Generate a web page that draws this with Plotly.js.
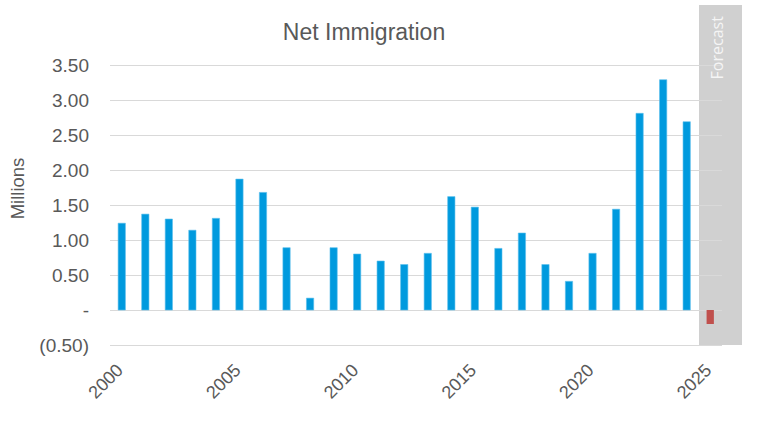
<!DOCTYPE html>
<html>
<head>
<meta charset="utf-8">
<script src="https://cdn.plot.ly/plotly-3.0.1.min.js"></script>
<style>html,body{margin:0;padding:0;background:#fff;}#chart{width:768px;height:422px;}</style>
</head>
<body>
<div id="chart"></div>
<script>
// Data
const years = [2000,2001,2002,2003,2004,2005,2006,2007,2008,2009,2010,2011,2012,2013,2014,2015,2016,2017,2018,2019,2020,2021,2022,2023,2024];
const netImmigration = [1.24,1.37,1.30,1.14,1.31,1.87,1.68,0.89,0.17,0.89,0.80,0.70,0.65,0.81,1.62,1.47,0.88,1.10,0.65,0.41,0.81,1.44,2.81,3.29,2.69];
const forecastYears = [2025];
const forecastValues = [-0.20];
const yTickVals = [-0.5,0,0.5,1,1.5,2,2.5,3,3.5];
const yTickText = ["(0.50)","-","0.50","1.00","1.50","2.00","2.50","3.00","3.50"];
const xTickVals = [2000,2005,2010,2015,2020,2025];
const xTickText = ["2000","2005","2010","2015","2020","2025"];

const textColor = '#595959';
const font = 'Liberation Sans, Arial, sans-serif';

const traces = [
  {type:'bar', x: years, y: netImmigration, marker:{color:'#009ADE', line:{color:'#5cc0ec', width:0.6}}, width:0.31, hoverinfo:'x+y'},
  {type:'bar', x: forecastYears, y: forecastValues, marker:{color:'#C0504D'}, width:0.31, hoverinfo:'x+y'}
];

const layout = {
  width:768, height:422,
  margin:{l:110, r:46, t:30, b:75},
  paper_bgcolor:'#ffffff', plot_bgcolor:'rgba(0,0,0,0)',
  showlegend:false,
  barmode:'overlay',
  font:{family:font, color:textColor},
  title:{text:'Net Immigration', x:0.474, xanchor:'center', y:0.925, yanchor:'middle', font:{family:font, size:23, color:textColor}},
  xaxis:{range:[1999.5,2025.5], tickvals:xTickVals, ticktext:xTickText, tickangle:-45,
         tickfont:{family:font, size:18, color:textColor}, showgrid:false, zeroline:false, showline:false, ticks:'',
         ticklabelstandoff:8, ticklabelshift:-4},
  yaxis:{range:[-0.5286,4.0], tickvals:yTickVals, ticktext:yTickText,
         tickfont:{family:font, size:19, color:textColor}, showgrid:true, gridcolor:'#d9d9d9', gridwidth:1,
         zeroline:false, showline:false, ticks:'', ticklabelstandoff:20,
         title:{text:'Millions', font:{family:font, size:18.5, color:textColor}, standoff:9}},
  shapes:[
    {type:'rect', xref:'paper', yref:'paper', x0:0.9624, x1:1.0327, y0:0.0063, y1:1.0789, fillcolor:'#d0d0d0', line:{width:0}, layer:'below'}
  ],
  annotations:[
    {text:'Forecast', xref:'paper', yref:'paper', x:0.9913, y:0.944, textangle:-90, showarrow:false,
     font:{family:'Open Sans, sans-serif', size:16, color:'#f5f5f5'}, xanchor:'center', yanchor:'middle'}
  ]
};

Plotly.newPlot('chart', traces, layout, {displayModeBar:false, staticPlot:true});
</script>
</body>
</html>
